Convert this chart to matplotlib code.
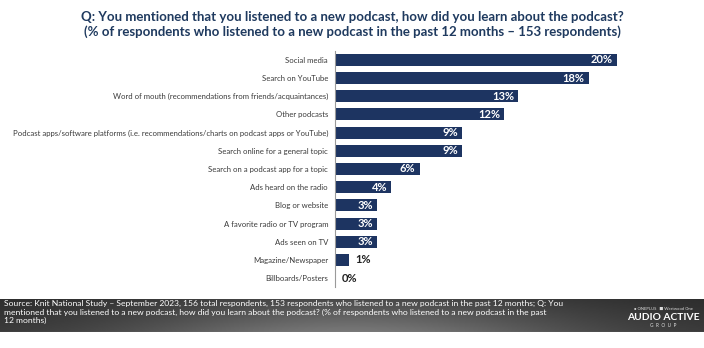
import numpy as np
import matplotlib
matplotlib.use("Agg")
import matplotlib.pyplot as plt

# survey answers, top to bottom
categories = [
    "Social media",
    "Search on YouTube",
    "Word of mouth (recommendations from friends/acquaintances)",
    "Other podcasts",
    "Podcast apps/software platforms (i.e. recommendations/charts on podcast apps or YouTube)",
    "Search online for a general topic",
    "Search on a podcast app for a topic",
    "Ads heard on the radio",
    "Blog or website",
    "A favorite radio or TV program",
    "Ads seen on TV",
    "Magazine/Newspaper",
    "Billboards/Posters",
]
shares = [20, 18, 13, 12, 9, 9, 6, 4, 3, 3, 3, 1, 0]

title_lines = [
    "Q: You mentioned that you listened to a new podcast, how did you learn about the podcast?",
    "(% of respondents who listened to a new podcast in the past 12 months \u2013 153 respondents)",
]
source_text = (
    "Source: Knit National Study \u2013 September 2023, 156 total respondents, 153 respondents who listened "
    "to a new podcast in the past 12 months; Q: You\n"
    "mentioned that you listened to a new podcast, how did you learn about the podcast? (% of respondents "
    "who listened to a new podcast in the past\n"
    "12 months)"
)

NAVY = "#1d3461"
W, H = 704, 348

plt.rcParams["font.family"] = ["Lato", "DejaVu Sans"]

fig = plt.figure(figsize=(W / 100, H / 100), dpi=100)
fig.patch.set_facecolor("white")

# title
fig.text(0.5, 1 - 17 / H, title_lines[0], ha="center", va="center",
         fontsize=9.5, fontweight="bold", color="#1f3a5f")
fig.text(0.5, 1 - 32 / H, title_lines[1], ha="center", va="center",
         fontsize=9.5, fontweight="bold", color="#1f3a5f")

# bar chart
ax = fig.add_axes([335 / W, 1 - 287.1 / H, 352.5 / W, (287.1 - 50.9) / H])
y = np.arange(len(categories))
ax.barh(y, shares, height=0.66, color=NAVY)
ax.set_xlim(0, 25)
ax.set_ylim(len(categories) - 0.5, -0.5)
ax.set_yticks(y)
ax.set_yticklabels(categories, fontsize=5.6, color="#3a3a3a")
ax.tick_params(axis="y", length=0, pad=5)
ax.set_xticks([])
for side in ["top", "right", "bottom"]:
    ax.spines[side].set_visible(False)
ax.spines["left"].set_color("#9a9a9a")
ax.spines["left"].set_linewidth(0.8)

for yi, v in zip(y, shares):
    if v >= 3:
        ax.text(v - 0.3, yi, f"{v}%", ha="right", va="center",
                fontsize=8, fontweight="bold", color="white")
    else:
        ax.text(v + 0.45, yi, f"{v}%", ha="left", va="center",
                fontsize=8, fontweight="bold", color="#222222")

# footer band: darker at the top and the ends, lighter towards the middle
band = fig.add_axes([0, 1 - 332 / H, 1, 33 / H])
xs = np.linspace(-1, 1, 400)
ys = np.linspace(0, 1, 40)[:, None]
shade = 0.17 + (0.12 + 0.14 * ys) * np.exp(-(xs / 0.65) ** 2)[None, :] + 0.04 * ys
band.imshow(shade, cmap="gray", vmin=0, vmax=1, origin="upper",
            aspect="auto", extent=[0, 1, 0, 1])
band.axhline(0.0, color="#a8a8a8", lw=0.8)
band.set_xlim(0, 1)
band.set_ylim(0, 1)
band.axis("off")

fig.text(4 / W, 1 - 300 / H, source_text, ha="left", va="top",
         fontsize=6.1, color="white", linespacing=1.25)

# brand mark on the right of the footer
fig.text(663 / W, 1 - 309 / H, "\u25cf ONEPLUS   \u25a0 Westwood One", ha="center", va="center",
         fontsize=3, color="#dddddd")
fig.text(663 / W, 1 - 317.5 / H, "AUDIO ACTIVE", ha="center", va="center",
         fontsize=7.4, fontweight="bold", color="white")
fig.text(663 / W, 1 - 325.5 / H, "G  R  O  U  P", ha="center", va="center",
         fontsize=3.4, color="#dddddd")

fig.savefig("out.png", dpi=100)
